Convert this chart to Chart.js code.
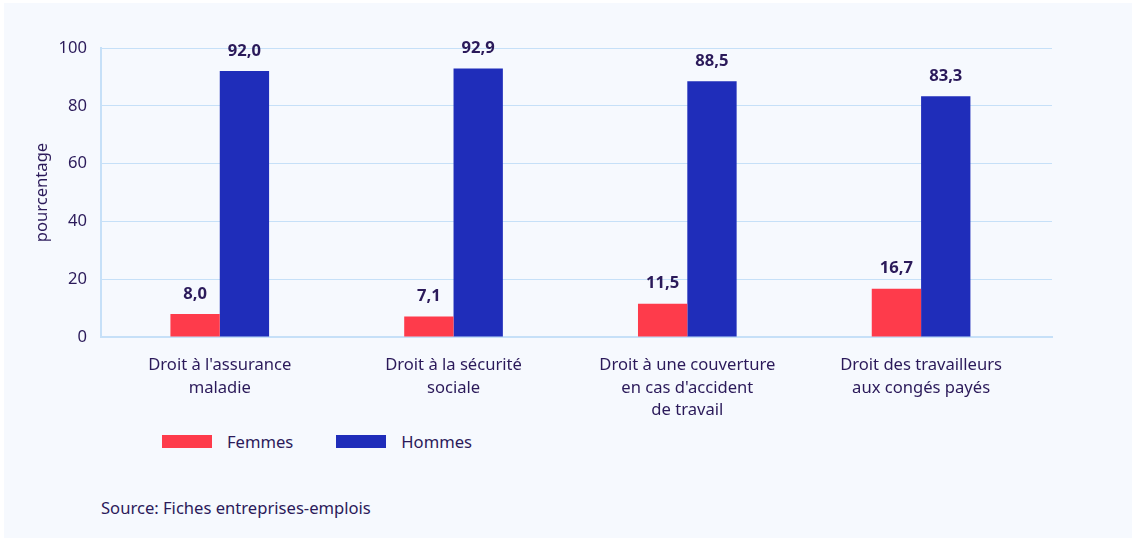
<!DOCTYPE html>
<html lang="fr">
<head>
<meta charset="utf-8">
<script src="https://cdn.jsdelivr.net/npm/chart.js@4/dist/chart.umd.min.js"></script>
<style>
  html, body { margin: 0; padding: 0; background: #ffffff; }
  body { width: 1132px; height: 538px; position: relative; overflow: hidden; font-family: "Noto Sans", sans-serif; color: #2b1a5a; }
  .card { position: absolute; left: 4px; top: 3px; right: 0; bottom: 0; background: #f6f9fe; }
  #wrap { position: absolute; left: 0; top: 0; width: 1132px; height: 430px; }
  .legend { position: absolute; top: 430px; left: 162px; display: flex; align-items: center; font-size: 16.6px; }
  .legend .item { display: flex; align-items: center; }
  .legend .box { width: 50px; height: 13px; margin-right: 15px; }
  .legend .item + .item { margin-left: 43px; }
  .source { position: absolute; left: 101px; top: 496px; font-size: 16.6px; }
</style>
</head>
<body>
<div class="card"></div>
<div id="wrap"><canvas id="chart"></canvas></div>
<div class="legend">
  <div class="item"><span class="box" style="background:#fe3b4b"></span>Femmes</div>
  <div class="item"><span class="box" style="background:#1f2dba"></span>Hommes</div>
</div>
<div class="source">Source: Fiches entreprises-emplois</div>

<script>
// Données
const categories = [
  ["Droit à l'assurance", "maladie"],
  ["Droit à la sécurité", "sociale"],
  ["Droit à une couverture", "en cas d'accident", "de travail"],
  ["Droit des travailleurs", "aux congés payés"]
];
const femmes = [8.0, 7.1, 11.5, 16.7];
const hommes = [92.0, 92.9, 88.5, 83.3];
const yTicks = [0, 20, 40, 60, 80, 100];

const textColor = "#2b1a5a";
const gridColor = "#c6e0f8";
const fontSize = 16.6;

// étiquettes de valeur au-dessus des barres
const valueLabels = {
  id: "valueLabels",
  afterDatasetsDraw(chart) {
    const ctx = chart.ctx;
    ctx.save();
    ctx.font = "bold " + fontSize + "px 'Noto Sans'";
    ctx.fillStyle = textColor;
    ctx.textAlign = "center";
    ctx.textBaseline = "middle";
    chart.data.datasets.forEach((ds, i) => {
      chart.getDatasetMeta(i).data.forEach((bar, j) => {
        const txt = ds.data[j].toFixed(1).replace(".", ",");
        ctx.fillText(txt, bar.x, bar.y - 20);
      });
    });
    ctx.restore();
  }
};

new Chart(document.getElementById("chart"), {
  type: "bar",
  data: {
    labels: categories.map((c, i) => i),
    datasets: [
      { label: "Femmes", data: femmes, backgroundColor: "#fe3b4b" },
      { label: "Hommes", data: hommes, backgroundColor: "#1f2dba" }
    ]
  },
  options: {
    responsive: true,
    maintainAspectRatio: false,
    animation: false,
    layout: { padding: { top: 48, right: 80, left: 32, bottom: 0 } },
    datasets: { bar: { barPercentage: 1, categoryPercentage: 0.422 } },
    plugins: {
      legend: { display: false },
      tooltip: { enabled: false }
    },
    scales: {
      x: {
        type: "linear",
        offset: false,
        min: -0.508,
        max: 3.56,
        afterBuildTicks: (s) => { s.ticks = categories.map((c, i) => ({ value: i })); },
        grid: { display: false, drawTicks: false },
        border: { display: true, color: gridColor, width: 2 },
        ticks: {
          color: textColor,
          font: { family: "Noto Sans", size: fontSize, lineHeight: 1.36 },
          padding: 17,
          maxRotation: 0,
          autoSkip: false,
          callback: (v) => categories[v]
        },
        afterFit: (s) => { s.height = 93; }
      },
      y: {
        min: 0,
        max: 100,
        afterBuildTicks: (s) => { s.ticks = yTicks.map(v => ({ value: v })); },
        grid: { color: gridColor, lineWidth: 1, drawTicks: false },
        border: { display: true, color: gridColor, width: 2 },
        ticks: {
          color: textColor,
          font: { family: "Noto Sans", size: fontSize },
          padding: 14
        },
        title: {
          display: true,
          text: "pourcentage",
          color: textColor,
          font: { family: "Noto Sans", size: fontSize },
          padding: 0
        },
        afterFit: (s) => { s.width = 69; }
      }
    }
  },
  plugins: [valueLabels]
});
</script>
</body>
</html>
